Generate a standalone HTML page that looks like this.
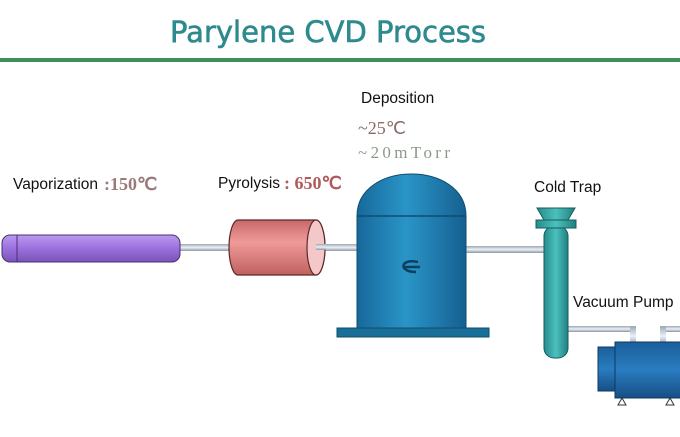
<!DOCTYPE html>
<html><head><meta charset="utf-8"><style>
html,body{margin:0;padding:0;background:#fff;}
svg{display:block;}
</style></head><body>
<svg width="680" height="437" viewBox="0 0 680 437" xmlns="http://www.w3.org/2000/svg">
<defs>
<linearGradient id="pur" x1="0" y1="0" x2="0" y2="1"><stop offset="0" stop-color="#b99af0"/><stop offset="0.5" stop-color="#9b70dc"/><stop offset="1" stop-color="#7a52b8"/></linearGradient>
<linearGradient id="pink" x1="0" y1="0" x2="0" y2="1"><stop offset="0" stop-color="#c86868"/><stop offset="0.4" stop-color="#f09a9a"/><stop offset="1" stop-color="#c06060"/></linearGradient>
<linearGradient id="blue" x1="0" y1="0" x2="1" y2="0"><stop offset="0" stop-color="#17689a"/><stop offset="0.45" stop-color="#2a95c8"/><stop offset="1" stop-color="#156090"/></linearGradient>
<linearGradient id="teal" x1="0" y1="0" x2="1" y2="0"><stop offset="0" stop-color="#258c8c"/><stop offset="0.5" stop-color="#4cc0bd"/><stop offset="1" stop-color="#208080"/></linearGradient>
<linearGradient id="pipe" x1="0" y1="0" x2="0" y2="1"><stop offset="0" stop-color="#9aa"/><stop offset="0.5" stop-color="#eef"/><stop offset="1" stop-color="#8a9a9a"/></linearGradient>
<linearGradient id="pump" x1="0" y1="0" x2="0" y2="1"><stop offset="0" stop-color="#1b5f9a"/><stop offset="0.5" stop-color="#2a7cc0"/><stop offset="1" stop-color="#164f85"/></linearGradient>
</defs>
<text x="170" y="42" font-family="DejaVu Sans, Liberation Sans, sans-serif" font-size="29" fill="#2d8a8e" stroke="#2d8a8e" stroke-width="0.6" textLength="316">Parylene CVD Process</text>
<rect x="0" y="58" width="680" height="4" fill="#3f8f5a"/>

<rect x="178" y="244" width="54" height="7" fill="url(#pipe)"/>
<rect x="320" y="244" width="40" height="7" fill="url(#pipe)"/>
<rect x="464" y="246" width="82" height="7" fill="url(#pipe)"/>
<rect x="566" y="326" width="70" height="6" fill="url(#pipe)"/>
<rect x="630" y="326" width="6" height="20" fill="url(#pipe)"/>
<rect x="660" y="326" width="20" height="6" fill="url(#pipe)"/>
<rect x="660" y="326" width="6" height="20" fill="url(#pipe)"/>

<rect x="2" y="235" width="178" height="27" rx="8" fill="url(#pur)" stroke="#4a3070" stroke-width="1"/>
<line x1="17" y1="235" x2="17" y2="262" stroke="#4a3070"/>

<path d="M238 220 H316 A9 27.5 0 0 1 316 275 H238 A9 27.5 0 0 1 238 220 Z" fill="url(#pink)" stroke="#5a2a2a" stroke-width="1.2"/>
<ellipse cx="316" cy="247.5" rx="9" ry="27.5" fill="#f4c8c8" stroke="#5a2a2a" stroke-width="1.2"/>
<rect x="316" y="244" width="10" height="6" fill="url(#pipe)"/>

<path d="M357 216 C357 160 466 160 466 216 V328 H357 Z" fill="url(#blue)" stroke="#0e4d70" stroke-width="1"/>
<line x1="357" y1="216" x2="466" y2="216" stroke="#0e4d70" stroke-width="1.5"/>
<rect x="337" y="328" width="152" height="9" fill="#1a6f98" stroke="#0e4d70"/>
<path d="M418 262 C400 258 398 272 416 272 M404 267 H420" fill="none" stroke="#0d3f5e" stroke-width="2.5"/>

<rect x="544" y="226" width="24" height="132" rx="10" fill="url(#teal)" stroke="#135e5e"/>
<path d="M537 208 H575 L568 220 H544 Z" fill="url(#teal)" stroke="#135e5e"/>
<rect x="536" y="220" width="40" height="8" fill="url(#teal)" stroke="#135e5e"/>

<rect x="598" y="347" width="18" height="44" fill="url(#pump)" stroke="#0d3a60"/>
<rect x="615" y="342" width="67" height="56" fill="url(#pump)" stroke="#0d3a60"/>
<path d="M622 398 l4 7 h-8 Z M670 398 l4 7 h-8 Z" fill="#fff" stroke="#333"/>

<g font-family="Liberation Sans, sans-serif" font-size="15.5" fill="#111">
<text x="13" y="189">Vaporization</text>
<text x="218" y="188">Pyrolysis</text>
<text x="361" y="103">Deposition</text>
<text x="534" y="192">Cold Trap</text>
<text x="573" y="307">Vacuum Pump</text>
</g>
<text x="104" y="190" font-family="Liberation Serif, serif" font-size="18" font-weight="bold" fill="#9a7a7a">:150℃</text>
<text x="284" y="189" font-family="Liberation Serif, serif" font-size="18" font-weight="bold" fill="#b05a5a">: 650℃</text>
<text x="358" y="134" font-family="Liberation Serif, serif" font-size="18" fill="#8a6a6a">~25℃</text>
<text x="358" y="158" font-family="Liberation Serif, serif" font-size="17" fill="#8a9a8a" textLength="92">~20mTorr</text>
</svg>
</body></html>
